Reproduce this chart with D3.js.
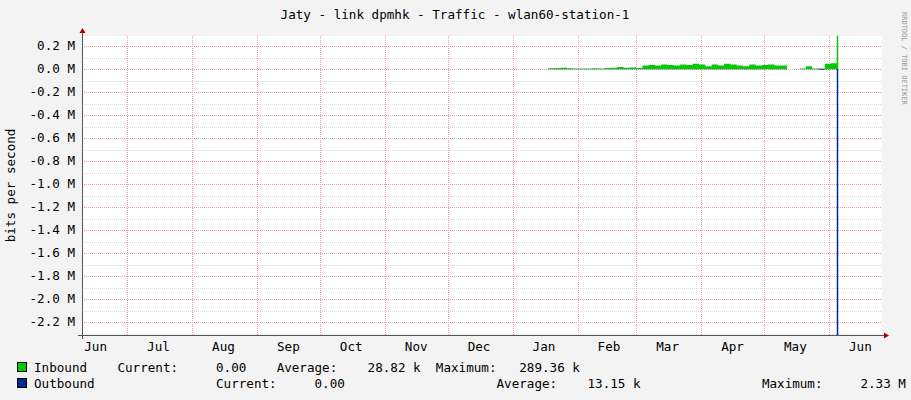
<!DOCTYPE html>
<html>
<head>
<meta charset="utf-8">
<script src="https://cdn.jsdelivr.net/npm/d3@7"></script>
<style>
  body { margin: 0; background: #f3f3f3; }
  text { font-family: "DejaVu Sans Mono", monospace; font-size: 12.6px; fill: #000; }
</style>
</head>
<body>
<svg id="chart" width="911" height="400"></svg>
<script>
// Inbound traffic in kbit/s, one sample every 3 days from 2015-01-18 (null = no data)
var inboundStart = new Date(2015, 0, 18);
var inboundK = [6, 8, 10, 6, 5, 5, 4, 6, 5, 8, 12, 18, 10, 14, 8, 30, 35, 30, 40, 35,
                30, 40, 35, 45, 40, 25, 40, 30, 45, 40, 30, 25, 40, 30, 35, 40, 30, 30, 20,
                null, 4, 25, 4, 4, 45, 50, 289];
// Outbound traffic in kbit/s, same sampling
var outboundK = [-2, -2, -2, -2, -2, -2, -2, -2, -2, -2, -2, -2, -2, -2, -2, -2, -2, -2, -2, -2,
                 -2, -2, -2, -2, -2, -2, -2, -2, -2, -2, -2, -2, -2, -2, -2, -2, -2, -2, -2,
                 null, -2, -2, -2, -6, -2, -2, -2330];
var monthLabels = ['Jun', 'Jul', 'Aug', 'Sep', 'Oct', 'Nov', 'Dec', 'Jan', 'Feb', 'Mar', 'Apr', 'May', 'Jun'];
var yTicks = [0.2, 0.0, -0.2, -0.4, -0.6, -0.8, -1.0, -1.2, -1.4, -1.6, -1.8, -2.0, -2.2];

var svg = d3.select('#chart');
var pLeft = 82, pRight = 882, pTop = 36, pBottom = 335;

var x = d3.scaleTime()
  .domain([new Date(2014, 5, 9, 12), new Date(2015, 5, 26, 8)])
  .range([pLeft, pRight]);
var y = d3.scaleLinear().domain([-2.313, 0.287]).range([pBottom, pTop]);

function sampleDate(i) { return d3.timeDay.offset(inboundStart, i * 3); }

svg.append('rect').attr('x', pLeft).attr('y', pTop)
  .attr('width', pRight - pLeft).attr('height', pBottom - pTop).attr('fill', '#fff');

// Horizontal grid: minor every 0.1 M, major every 0.2 M
d3.range(-23, 3).forEach(function(k) {
  var yy = Math.round(y(k / 10)) + 0.5;
  svg.append('line')
    .attr('x1', pLeft).attr('x2', pRight).attr('y1', yy).attr('y2', yy)
    .attr('stroke', k % 2 === 0 ? '#f0a0a0' : '#d8d8d8')
    .attr('stroke-dasharray', '1,1');
});
// Vertical grid at each month
d3.timeMonth.range(x.domain()[0], x.domain()[1]).forEach(function(m) {
  var xx = Math.round(x(m)) + 0.5;
  svg.append('line')
    .attr('x1', xx).attr('x2', xx).attr('y1', pTop).attr('y2', pBottom)
    .attr('stroke', '#f0a0a0').attr('stroke-dasharray', '1,1');
});

svg.append('clipPath').attr('id', 'clip').append('rect')
  .attr('x', pLeft).attr('y', pTop - 8).attr('width', pRight - pLeft).attr('height', pBottom - pTop + 8);
var plot = svg.append('g').attr('clip-path', 'url(#clip)');

function area(vals) {
  return d3.area()
    .defined(function(d) { return d !== null; })
    .curve(d3.curveStepAfter)
    .x(function(d, i) { return x(sampleDate(i)); })
    .y0(y(0))
    .y1(function(d) { return y(d / 1000); })(vals.concat([vals[vals.length - 1]]));
}
// Last sample is a one-pixel spike; the rest are step areas
plot.append('path').attr('d', area(outboundK.slice(0, -1))).attr('fill', '#002a97');
plot.append('path').attr('d', area(inboundK.slice(0, -1))).attr('fill', '#00cc00');
var spikeX = Math.round(x(sampleDate(inboundK.length - 1))) + 0.5;
plot.append('line').attr('x1', spikeX).attr('x2', spikeX)
  .attr('y1', y(0)).attr('y2', y(outboundK[outboundK.length - 1] / 1000))
  .attr('stroke', '#002a97').attr('stroke-width', 1.5);
plot.append('line').attr('x1', spikeX).attr('x2', spikeX)
  .attr('y1', y(0)).attr('y2', y(inboundK[inboundK.length - 1] / 1000))
  .attr('stroke', '#00cc00').attr('stroke-width', 1.5);

// Axes with arrows
svg.append('line').attr('x1', pLeft - 4).attr('x2', pRight + 2).attr('y1', pBottom + 0.5).attr('y2', pBottom + 0.5).attr('stroke', '#555');
svg.append('path').attr('d', 'M' + (pRight + 2) + ',' + (pBottom - 2.5) + 'L' + (pRight + 7) + ',' + (pBottom + 0.5) + 'L' + (pRight + 2) + ',' + (pBottom + 3.5) + 'Z').attr('fill', '#a00');
svg.append('line').attr('x1', pLeft + 0.5).attr('x2', pLeft + 0.5).attr('y1', pBottom + 4).attr('y2', pTop - 3).attr('stroke', '#555');
svg.append('path').attr('d', 'M' + (pLeft - 2.5) + ',' + (pTop - 3) + 'L' + (pLeft + 0.5) + ',' + (pTop - 8) + 'L' + (pLeft + 3.5) + ',' + (pTop - 3) + 'Z').attr('fill', '#a00');

yTicks.forEach(function(v) {
  svg.append('text').attr('x', 75).attr('y', y(v) + 4).attr('text-anchor', 'end')
    .text(v.toFixed(1) + ' M');
});
monthLabels.forEach(function(lbl, i) {
  svg.append('text').attr('x', x(new Date(2014, 5 + i, 16))).attr('y', 351)
    .attr('text-anchor', 'middle').text(lbl);
});

svg.append('text').attr('x', 455).attr('y', 19).attr('text-anchor', 'middle')
  .text('Jaty - link dpmhk - Traffic - wlan60-station-1');
svg.append('text').attr('transform', 'translate(15,' + (pTop + pBottom) / 2 + ') rotate(-90)')
  .attr('text-anchor', 'middle').text('bits per second');
svg.append('text').attr('transform', 'translate(902,12) rotate(90)')
  .style('font-size', '7px').style('fill', '#999').text('RRDTOOL / TOBI OETIKER');

// Legend
svg.append('rect').attr('x', 17.5).attr('y', 362.5).attr('width', 9).attr('height', 9).attr('fill', '#00cc00').attr('stroke', '#000');
svg.append('rect').attr('x', 17.5).attr('y', 378.5).attr('width', 9).attr('height', 9).attr('fill', '#002a97').attr('stroke', '#000');
svg.append('text').attr('x', 34).attr('y', 372).attr('xml:space', 'preserve')
  .text('Inbound    Current:     0.00    Average:    28.82 k  Maximum:   289.36 k');
svg.append('text').attr('x', 34).attr('y', 388).attr('xml:space', 'preserve')
  .text('Outbound                Current:     0.00                    Average:    13.15 k                Maximum:     2.33 M');
</script>
</body>
</html>
